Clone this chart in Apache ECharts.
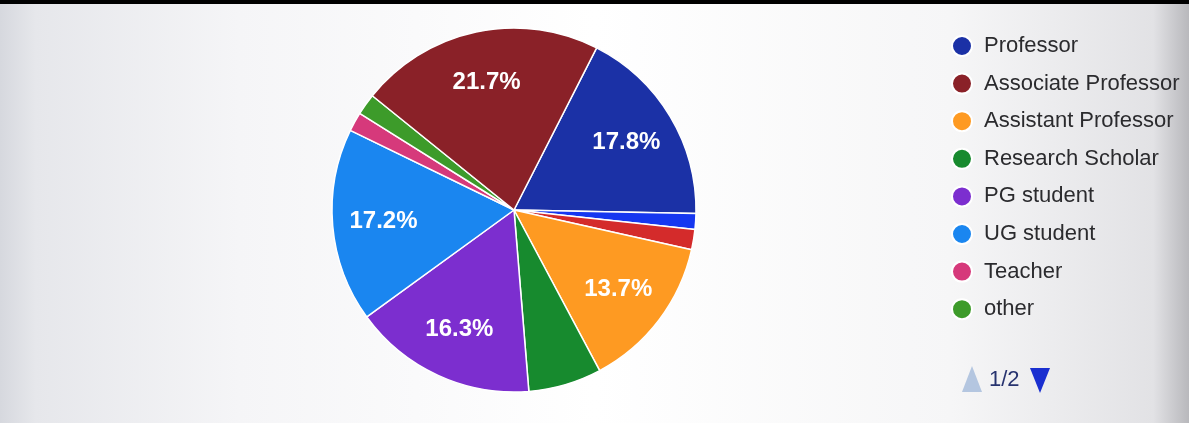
<!DOCTYPE html>
<html>
<head>
<meta charset="utf-8">
<script src="https://cdn.jsdelivr.net/npm/echarts@6/dist/echarts.min.js"></script>
<style>
  html, body { margin: 0; padding: 0; background: #000; }
  #chart { width: 1189px; height: 419px; margin-top: 4px; }
</style>
</head>
<body>
<div id="chart"></div>
<script>
// Slices in clockwise drawing order (as seen in the picture)
const sliceNames = ['Professor', 'Lecturer', 'Scientist', 'Assistant Professor', 'Research Scholar',
                    'PG student', 'UG student', 'Teacher', 'other', 'Associate Professor'];
const sliceValues = [17.8, 1.4, 1.8, 13.7, 6.5, 16.3, 17.2, 1.7, 1.9, 21.7];
const sliceColors = ['#1b31a6', '#1637f0', '#d42b2b', '#fe9a22', '#178a2e',
                     '#7c2ecf', '#1a86f0', '#d6397b', '#3d9b2a', '#8a2128'];
// Legend page 1 of 2 (the remaining entries sit on page 2)
const legendPage1 = ['Professor', 'Associate Professor', 'Assistant Professor', 'Research Scholar',
                     'PG student', 'UG student', 'Teacher', 'other'];
const pagerText = '1/2';

const pieData = sliceNames.map((n, i) => ({ name: n, value: sliceValues[i], itemStyle: { color: sliceColors[i] } }));
const FONT = 'Liberation Sans, Arial, sans-serif';

const chart = echarts.init(document.getElementById('chart'));
chart.setOption({
  backgroundColor: {
    type: 'linear', x: 0, y: 0, x2: 1, y2: 0,
    colorStops: [
      { offset: 0, color: '#d6d8de' },
      { offset: 0.03, color: '#e6e7eb' },
      { offset: 0.2, color: '#f5f5f7' },
      { offset: 0.5, color: '#ffffff' },
      { offset: 0.8, color: '#f6f6f7' },
      { offset: 0.97, color: '#e2e2e5' },
      { offset: 1, color: '#b8b8bc' }
    ]
  },
  animation: false,
  legend: {
    type: 'plain',
    orient: 'vertical',
    left: 946,
    top: 26,
    data: legendPage1,
    icon: 'circle',
    itemWidth: 20,
    itemHeight: 20,
    itemGap: 15.6,
    selectedMode: false,
    textStyle: { fontFamily: FONT, fontSize: 22, color: '#2b2b2e', padding: [0, 0, 0, 7] }
  },
  graphic: [
    { type: 'polygon', shape: { points: [[972, 362], [962, 388], [982, 388]] }, style: { fill: '#b4c6e0' }, silent: true },
    { type: 'text', left: 989, top: 365, style: { text: pagerText, fill: '#27336f', font: '22px ' + FONT } },
    { type: 'polygon', shape: { points: [[1030, 364], [1050, 364], [1040, 389]] }, style: { fill: '#1a2fd0' }, silent: true }
  ],
  series: [
    {
      type: 'pie',
      center: [514, 206],
      radius: [0, 182],
      startAngle: 63,
      data: pieData,
      label: { show: false },
      labelLine: { show: false },
      itemStyle: { borderColor: '#ffffff', borderWidth: 1.5 },
      emphasis: { disabled: true }
    },
    {
      type: 'pie',
      center: [514, 206],
      radius: [74, 182],
      startAngle: 63,
      silent: true,
      legendHoverLink: false,
      data: pieData.map(d => ({ name: d.name, value: d.value, itemStyle: { color: 'rgba(0,0,0,0)' } })),
      itemStyle: { borderWidth: 0 },
      label: {
        show: true,
        position: 'inside',
        color: '#ffffff',
        fontSize: 24,
        fontWeight: 'bold',
        fontFamily: FONT,
        formatter: p => (p.value >= 10 ? p.value.toFixed(1) + '%' : '')
      },
      labelLine: { show: false },
      emphasis: { disabled: true }
    }
  ]
});
</script>
</body>
</html>
